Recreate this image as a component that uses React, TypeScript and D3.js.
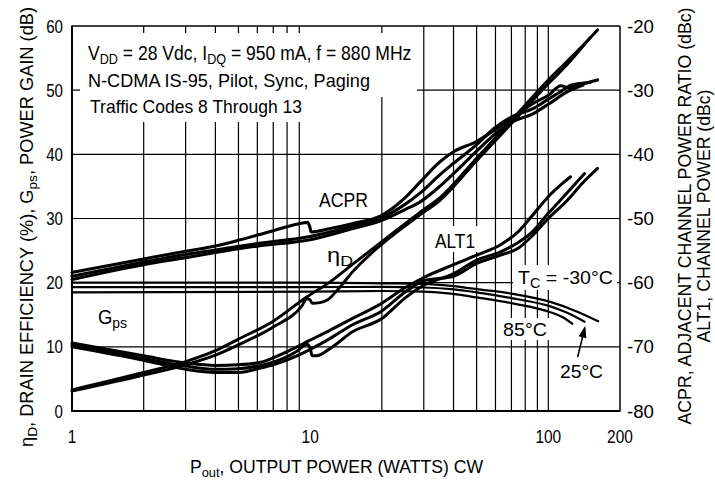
import * as d3 from "d3";

const W = 715;
const H = 480;

// axes
const xTicks = [1, 10, 100, 200];
const xGrid = [2, 3, 4, 5, 6, 7, 8, 9, 20, 30, 40, 50, 60, 70, 80, 90, 100];
const leftTicks = [0, 10, 20, 30, 40, 50, 60];
const rightTicks = [-80, -70, -60, -50, -40, -30, -20];

// Gps (dB), one trace per case temperature
const gpsM30: [number, number][] = [[1, 20.0], [5, 20.0], [10, 20.0], [20, 19.9], [30, 19.8], [39, 19.5], [50, 19.0], [70, 18.3], [102, 17.0], [130, 15.6], [162, 14.0]];
const gps25: [number, number][] = [[1, 19.3], [10, 19.3], [20, 19.35], [30, 19.25], [39, 19.0], [50, 18.5], [70, 17.6], [102, 16.3], [120, 15.3], [142, 13.9]];
const gps85: [number, number][] = [[1, 18.5], [10, 18.6], [20, 18.7], [30, 18.6], [39, 18.3], [50, 17.7], [70, 16.8], [102, 15.4], [115, 14.6], [126, 13.6]];

// drain efficiency (%)
const etaA: [number, number][] = [[1, 3.3], [2, 6.0], [3, 7.7], [4, 9.4], [5, 11.2], [7, 14.0], [9.7, 17.8], [12, 20.0], [15, 22.8], [20, 26.4], [29, 31.0], [35, 33.2], [50, 39.4], [70, 45.3], [100, 51.6], [120, 54.5], [140, 57.0], [161, 59.4]];
const etaB: [number, number][] = [[1, 3.1], [2, 5.6], [3, 7.2], [4, 8.7], [5, 10.3], [7, 13.1], [9.2, 16.3], [9.7, 17.5], [10, 17.3], [10.2, 16.8], [11, 16.9], [11.8, 17.3], [13.4, 19.4], [15, 21.6], [20, 26.0], [29, 30.6], [35, 32.8], [50, 39.0], [70, 44.8], [100, 51.0], [120, 54.0], [150, 58.2]];

// ACPR (dBc)
const acprA: [number, number][] = [[1, -58.4], [2, -56.3], [3, -55.1], [4, -54.3], [5, -53.4], [7, -51.9], [9.3, -50.7], [9.75, -50.6], [9.95, -51.2], [10.1, -52.1], [12, -51.6], [15, -50.8], [20, -49.5], [25, -46.8], [29, -44.3], [35, -41.2], [40, -39.6], [50, -38.0], [59, -36.3], [70, -34.4], [87, -32.0], [100, -30.8], [113, -29.3], [121, -29.6], [140, -29.0], [161, -28.4]];
const acprB: [number, number][] = [[1, -59.0], [2, -56.8], [3, -55.6], [4, -54.9], [6, -53.9], [10, -52.8], [15, -51.2], [20, -49.9], [25, -47.8], [29, -46.0], [35, -43.2], [40, -41.4], [50, -38.5], [59, -36.0], [70, -34.2], [87, -32.8], [100, -31.4], [113, -30.2], [125, -29.2], [150, -28.8]];
const acprC: [number, number][] = [[1, -59.5], [2, -57.2], [3, -56.1], [4, -55.3], [6, -54.3], [10, -53.3], [15, -51.6], [20, -50.3], [25, -48.6], [29, -47.4], [35, -45.0], [40, -43.0], [50, -39.5], [59, -37.0], [70, -35.0], [87, -33.6], [100, -32.2], [121, -30.2], [140, -29.2]];

// ALT1 (dBc)
const alt1A: [number, number][] = [[1, -69.4], [2, -71.4], [3, -72.5], [4, -72.9], [5, -72.8], [6.2, -72.4], [7, -71.7], [8.8, -70.0], [9.7, -69.2], [11, -68.2], [12, -67.5], [15, -65.6], [20, -63.2], [25, -60.8], [30, -59.2], [40, -57.2], [50, -55.7], [63, -54.1], [75, -52.0], [85, -49.7], [100, -46.6], [115, -44.5], [124, -43.5]];
const alt1B: [number, number][] = [[1, -69.7], [2, -71.8], [3, -73.0], [4, -73.5], [5, -73.4], [6.2, -72.9], [7, -72.4], [8.8, -70.7], [9.7, -69.6], [10, -70.2], [10.2, -71.4], [10.6, -71.4], [12.2, -70.2], [15, -67.7], [20, -65.6], [25, -62.4], [30, -60.4], [40, -58.6], [50, -56.5], [63, -55.2], [75, -53.7], [85, -52.2], [100, -49.2], [120, -46.0], [142, -43.0]];
const alt1C: [number, number][] = [[1, -70.0], [2, -72.1], [3, -73.5], [4, -74.0], [5, -74.0], [6.2, -73.3], [7, -72.8], [8.8, -71.4], [10, -70.4], [12, -68.8], [15, -66.6], [20, -64.4], [25, -61.5], [30, -59.7], [40, -59.0], [50, -57.0], [63, -55.7], [75, -54.6], [85, -52.8], [100, -50.0], [120, -47.2], [140, -44.4], [161, -42.2]];

// arrow for the 25 °C label, in data units (W, dB)
const arrowTail: [number, number] = [133, 8.5];
const arrowTip: [number, number] = [143, 13.3];

const FONT = "'Liberation Sans', Arial, Helvetica, sans-serif";

export default function App() {
  const x = d3.scaleLog().domain([1, 200]).range([72, 620]);
  const yL = d3.scaleLinear().domain([0, 60]).range([411, 26]);
  const yR = d3.scaleLinear().domain([-80, -20]).range([411, 26]);

  const lineL = d3.line<[number, number]>().x(d => x(d[0])).y(d => yL(d[1])).curve(d3.curveMonotoneX);
  const lineR = d3.line<[number, number]>().x(d => x(d[0])).y(d => yR(d[1])).curve(d3.curveMonotoneX);

  const [x0, x1] = x.range();
  const [yb, yt] = yL.range();

  // arrow head
  const tx = x(arrowTip[0]), ty = yL(arrowTip[1]);
  const sx = x(arrowTail[0]), sy = yL(arrowTail[1]);
  const len = Math.hypot(tx - sx, ty - sy);
  const ux = (tx - sx) / len, uy = (ty - sy) / len;
  const bx = tx - 12 * ux, by = ty - 12 * uy;
  const head = `M${tx},${ty}L${bx - 4 * uy},${by + 4 * ux}L${bx + 4 * uy},${by - 4 * ux}Z`;

  return (
    <svg width={W} height={H} style={{ position: "absolute", left: 0, top: 0, background: "#fff" }} fontFamily={FONT}>
      <rect width={W} height={H} fill="#fff" />

      {/* grid */}
      <g stroke="#000" strokeWidth={1.2}>
        {xGrid.map(v => <line key={v} x1={x(v)} x2={x(v)} y1={yt} y2={yb} />)}
        {leftTicks.slice(1, -1).map(v => <line key={v} x1={x0} x2={x1} y1={yL(v)} y2={yL(v)} />)}
      </g>

      {/* white boxes behind text */}
      <g fill="#fff">
        <rect x={80} y={33} width={337} height={64} />
        <rect x={80} y={97} width={226} height={25} />
        <rect x={513} y={265} width={104} height={25} />
        <rect x={499} y={318} width={52} height={22} />
        <rect x={431} y={226} width={48} height={26} />
      </g>

      {/* frame */}
      <g stroke="#000" fill="none">
        <line x1={x0} x2={x1} y1={yt} y2={yt} strokeWidth={1.5} />
        <line x1={x1} x2={x1} y1={yt} y2={yb} strokeWidth={1.5} />
        <line x1={x0} x2={x0} y1={yt - 0.5} y2={yb + 1} strokeWidth={2} />
        <line x1={x0 - 1} x2={x1 + 0.5} y1={yb} y2={yb} strokeWidth={2} />
      </g>

      {/* curves */}
      <g fill="none" stroke="#000" strokeLinecap="round" strokeLinejoin="round">
        {[gpsM30, gps25, gps85].map((d, i) => <path key={"g" + i} d={lineL(d) ?? ""} strokeWidth={2.2} />)}
        {[etaA, etaB].map((d, i) => <path key={"e" + i} d={lineL(d) ?? ""} strokeWidth={2.9} />)}
        {[acprA, acprB, acprC].map((d, i) => <path key={"a" + i} d={lineR(d) ?? ""} strokeWidth={3.1} />)}
        {[alt1A, alt1B, alt1C].map((d, i) => <path key={"l" + i} d={lineR(d) ?? ""} strokeWidth={3} />)}
        <line x1={sx} y1={sy} x2={bx} y2={by} strokeWidth={1.6} />
      </g>
      <path d={head} fill="#000" />

      {/* tick labels */}
      <g fontSize={18.5} fill="#000">
        {leftTicks.map(v => (
          <text key={v} x={63} y={yL(v) + 6.6} textAnchor="end" textLength={String(v).length * 8.4} lengthAdjust="spacingAndGlyphs">{v}</text>
        ))}
        {rightTicks.map(v => (
          <text key={v} x={627} y={yR(v) + 6.6} textLength={27} lengthAdjust="spacingAndGlyphs">{v}</text>
        ))}
        {xTicks.map(v => (
          <text key={v} x={x(v)} y={443} textAnchor="middle" textLength={String(v).length * 8.6} lengthAdjust="spacingAndGlyphs">{v}</text>
        ))}
      </g>

      {/* annotation */}
      <g fontSize={19} fill="#000">
        <text transform="translate(88,60) scale(0.9,1)" fontSize={19.5}>
          V<tspan fontSize={14} dy={4}>DD</tspan><tspan dy={-4}> = 28 Vdc, I</tspan><tspan fontSize={14} dy={4}>DQ</tspan><tspan dy={-4}> = 950 mA, f = 880 MHz</tspan>
        </text>
        <text x={88} y={87} textLength={282} lengthAdjust="spacingAndGlyphs">N-CDMA IS-95, Pilot, Sync, Paging</text>
        <text x={90} y={113} textLength={212} lengthAdjust="spacingAndGlyphs">Traffic Codes 8 Through 13</text>

        <text x={319} y={207} fontSize={20} textLength={49} lengthAdjust="spacingAndGlyphs">ACPR</text>
        <text x={327} y={262} fontSize={20} textLength={26} lengthAdjust="spacingAndGlyphs">η<tspan fontSize={15} dy={4}>D</tspan></text>
        <text x={435} y={248} fontSize={20} textLength={40} lengthAdjust="spacingAndGlyphs">ALT1</text>
        <text x={98} y={324} fontSize={20} textLength={29} lengthAdjust="spacingAndGlyphs">G<tspan fontSize={15} dy={4}>ps</tspan></text>
        <text x={518} y={284} textLength={95} lengthAdjust="spacingAndGlyphs">T<tspan fontSize={14} dy={4}>C</tspan><tspan dy={-4}> = -30°C</tspan></text>
        <text x={503} y={336} textLength={44} lengthAdjust="spacingAndGlyphs">85°C</text>
        <text x={560} y={378} textLength={43} lengthAdjust="spacingAndGlyphs">25°C</text>
      </g>

      {/* axis titles */}
      <g fontSize={18} fill="#000">
        <text x={336.5} y={473} textAnchor="middle" fontSize={18.5} textLength={293} lengthAdjust="spacingAndGlyphs">
          P<tspan fontSize={13.5} dy={4}>out</tspan><tspan dy={-4}>, OUTPUT POWER (WATTS) CW</tspan>
        </text>
        <text transform="translate(33,227) rotate(-90)" textAnchor="middle" textLength={440} lengthAdjust="spacingAndGlyphs">
          η<tspan fontSize={13.5} dy={4}>D</tspan><tspan dy={-4}>, DRAIN EFFICIENCY (%), G</tspan><tspan fontSize={13.5} dy={4}>ps</tspan><tspan dy={-4}>, POWER GAIN (dB)</tspan>
        </text>
        <text transform="translate(691,216) rotate(-90)" textAnchor="middle" textLength={417} lengthAdjust="spacingAndGlyphs">
          ACPR, ADJACENT CHANNEL POWER RATIO (dBc)
        </text>
        <text transform="translate(710,216) rotate(-90)" textAnchor="middle" textLength={253} lengthAdjust="spacingAndGlyphs">
          ALT1, CHANNEL POWER (dBc)
        </text>
      </g>
    </svg>
  );
}
